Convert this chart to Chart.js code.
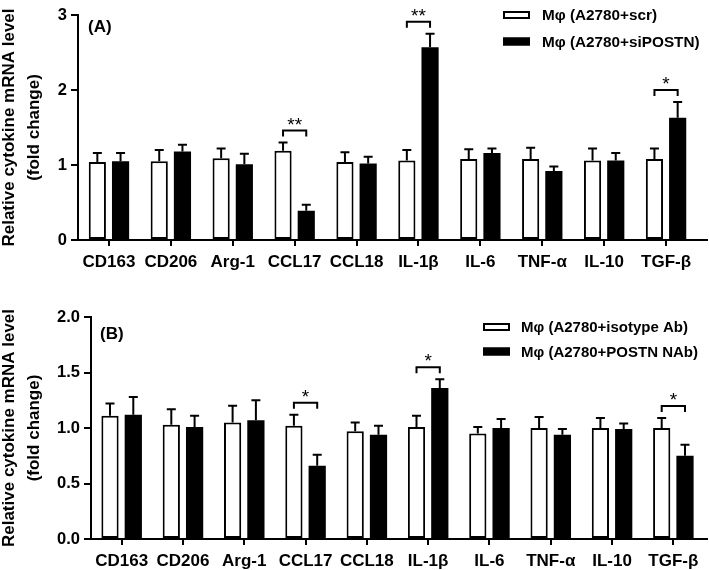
<!DOCTYPE html>
<html>
<head>
<meta charset="utf-8">
<script src="https://cdn.jsdelivr.net/npm/chart.js@4.4.1/dist/chart.umd.min.js"></script>
<style>
  html, body { margin: 0; padding: 0; background: #fff; }
  #wrap { position: relative; width: 709px; height: 570px; overflow: hidden; }
  canvas { position: absolute; left: 0; }
  #cA { top: 0; }
  #cB { top: 275px; }
</style>
</head>
<body>
<div id="wrap">
  <canvas id="cA" width="709" height="275"></canvas>
  <canvas id="cB" width="709" height="295"></canvas>
</div>
<script>
// ---------- data ----------
const categories = ['CD163', 'CD206', 'Arg-1', 'CCL17', 'CCL18', 'IL-1β', 'IL-6', 'TNF-α', 'IL-10', 'TGF-β'];

// Panel A
const labelA1 = 'Mφ (A2780+scr)';
const labelA2 = 'Mφ (A2780+siPOSTN)';
const scrMean = [1.04, 1.05, 1.09, 1.19, 1.04, 1.06, 1.08, 1.08, 1.06, 1.08];
const scrErr  = [0.12, 0.15, 0.13, 0.11, 0.13, 0.14, 0.13, 0.15, 0.16, 0.14];
const siMean  = [1.05, 1.18, 1.01, 0.39, 1.02, 2.57, 1.16, 0.92, 1.06, 1.63];
const siErr   = [0.11, 0.09, 0.14, 0.08, 0.09, 0.18, 0.06, 0.06, 0.10, 0.21];
const sigA    = ['', '', '', '**', '', '**', '', '', '', '*'];
const yTicksA = [0, 1, 2, 3];

// Panel B
const labelB1 = 'Mφ (A2780+isotype Ab)';
const labelB2 = 'Mφ (A2780+POSTN NAb)';
const isoMean = [1.11, 1.03, 1.05, 1.02, 0.97, 1.01, 0.95, 1.00, 1.00, 1.00];
const isoErr  = [0.11, 0.14, 0.15, 0.10, 0.08, 0.10, 0.06, 0.10, 0.09, 0.09];
const nabMean = [1.12, 1.01, 1.07, 0.66, 0.94, 1.36, 1.00, 0.94, 0.99, 0.75];
const nabErr  = [0.16, 0.10, 0.18, 0.10, 0.08, 0.08, 0.08, 0.05, 0.05, 0.10];
const sigB    = ['', '', '', '*', '', '*', '', '', '', '*'];
const yTicksB = ['0.0', '0.5', '1.0', '1.5', '2.0'];

const yTitle = ['Relative cytokine mRNA level', '(fold change)'];

// ---------- helpers ----------
const FONT = "'Liberation Sans', Arial, Helvetica, sans-serif";
Chart.defaults.font.family = FONT;
Chart.defaults.color = '#000';

const overlayPlugin = {
  id: 'overlay',
  afterDatasetsDraw(chart, args, opts) {
    const ctx = chart.ctx;
    const y = chart.scales.y;
    const ca = chart.chartArea;
    ctx.save();
    ctx.strokeStyle = '#000';
    ctx.fillStyle = '#000';
    ctx.lineWidth = 2;
    // extend x axis line to the right edge
    ctx.beginPath();
    ctx.moveTo(ca.right, ca.bottom);
    ctx.lineTo(chart.width - 1, ca.bottom);
    ctx.stroke();
    // error bars (upper only)
    const tops = [];
    chart.data.datasets.forEach((ds, di) => {
      const meta = chart.getDatasetMeta(di);
      tops[di] = [];
      meta.data.forEach((el, j) => {
        const yTop = y.getPixelForValue(ds.data[j] + ds.errors[j]);
        tops[di][j] = yTop;
        ctx.beginPath();
        ctx.moveTo(el.x, el.y);
        ctx.lineTo(el.x, yTop);
        ctx.moveTo(el.x - 4.5, yTop);
        ctx.lineTo(el.x + 4.5, yTop);
        ctx.stroke();
      });
    });
    // significance brackets
    const m0 = chart.getDatasetMeta(0), m1 = chart.getDatasetMeta(1);
    opts.sig.forEach((s, j) => {
      if (!s) return;
      const x1 = m0.data[j].x, x2 = m1.data[j].x;
      const yb = Math.min(tops[0][j], tops[1][j]) - 12;
      ctx.beginPath();
      ctx.moveTo(x1, yb + 6);
      ctx.lineTo(x1, yb);
      ctx.lineTo(x2, yb);
      ctx.lineTo(x2, yb + 6);
      ctx.stroke();
      ctx.font = '19px ' + FONT;
      ctx.textAlign = 'center';
      ctx.textBaseline = 'middle';
      ctx.fillText(s, (x1 + x2) / 2, yb - 5);
    });
    // panel label
    ctx.font = 'bold 17px ' + FONT;
    ctx.textAlign = 'left';
    ctx.textBaseline = 'middle';
    ctx.fillText(opts.panel, ca.left + opts.panelDx, ca.top + opts.panelDy);
    // legend
    chart.data.datasets.forEach((ds, di) => {
      const ly = opts.legY + di * opts.legGap;
      const bx = opts.legX;
      ctx.fillStyle = ds.backgroundColor;
      ctx.fillRect(bx, ly - 4, 27, 8);
      ctx.strokeStyle = '#000';
      ctx.lineWidth = 2;
      ctx.strokeRect(bx + 1, ly - 3, 25, 6);
      ctx.fillStyle = '#000';
      ctx.font = 'bold ' + opts.legFont + 'px ' + FONT;
      ctx.textAlign = 'left';
      ctx.textBaseline = 'middle';
      ctx.fillText(ds.label, bx + opts.legTextDx, ly + 1);
    });
    ctx.restore();
  }
};

function makeChart(canvasId, cfg) {
  return new Chart(document.getElementById(canvasId), {
    type: 'bar',
    data: {
      labels: categories,
      datasets: [
        { label: cfg.l1, data: cfg.d1, errors: cfg.e1, backgroundColor: '#ffffff', borderColor: '#000', borderWidth: 2, borderSkipped: false },
        { label: cfg.l2, data: cfg.d2, errors: cfg.e2, backgroundColor: '#000000', borderColor: '#000', borderWidth: 0 }
      ]
    },
    options: {
      responsive: false,
      animation: false,
      devicePixelRatio: 1,
      categoryPercentage: cfg.catPct,
      barPercentage: 0.74,
      layout: { padding: { left: 0, right: cfg.padRight, top: cfg.padTop, bottom: 0 } },
      plugins: {
        legend: { display: false },
        tooltip: { enabled: false },
        overlay: { sig: cfg.sig, panel: cfg.panel, panelDx: cfg.panelDx, panelDy: cfg.panelDy, legX: cfg.legX, legY: cfg.legY, legGap: cfg.legGap, legFont: cfg.legFont, legTextDx: cfg.legTextDx }
      },
      scales: {
        x: {
          offset: true,
          grid: { display: true, drawOnChartArea: false, drawTicks: true, tickLength: 6, color: '#000', lineWidth: 2, offset: false },
          border: { display: true, color: '#000', width: 2 },
          ticks: { font: { size: 17, weight: 'bold' }, color: '#000', padding: 6, maxRotation: 0, autoSkip: false },
          afterFit(s) { s.height = cfg.xHeight; }
        },
        y: {
          min: 0,
          max: cfg.yMax,
          afterBuildTicks(s) { s.ticks = cfg.yTicks.map(v => ({ value: parseFloat(v) })); },
          grid: { display: true, drawOnChartArea: false, drawTicks: true, tickLength: 7, color: '#000', lineWidth: 2 },
          border: { display: true, color: '#000', width: 2 },
          ticks: {
            font: { size: 16.5, weight: 'bold' }, color: '#000', padding: 4,
            callback: (v, i) => String(cfg.yTicks[i])
          },
          title: {
            display: true, text: yTitle, color: '#000',
            font: { size: 17, weight: 'bold', lineHeight: 1.47 },
            padding: { top: -3.5, bottom: 0 }
          },
          afterFit(s) { s.width = cfg.yWidth; }
        }
      }
    },
    plugins: [overlayPlugin]
  });
}

makeChart('cA', {
  l1: labelA1, l2: labelA2, d1: scrMean, e1: scrErr, d2: siMean, e2: siErr, sig: sigA,
  yMax: 3, yTicks: yTicksA, yWidth: 78, xHeight: 35, padTop: 15, padRight: 12, catPct: 0.75,
  panel: '(A)', panelDx: 10, panelDy: 12.5, legX: 503, legY: 15, legGap: 26.5, legFont: 15.3, legTextDx: 39
});

makeChart('cB', {
  l1: labelB1, l2: labelB2, d1: isoMean, e1: isoErr, d2: nabMean, e2: nabErr, sig: sigB,
  yMax: 2, yTicks: yTicksB, yWidth: 91, xHeight: 31, padTop: 42, padRight: 5, catPct: 0.76,
  panel: '(B)', panelDx: 9, panelDy: 17, legX: 483, legY: 52, legGap: 24.5, legFont: 15, legTextDx: 38
});
</script>
</body>
</html>
